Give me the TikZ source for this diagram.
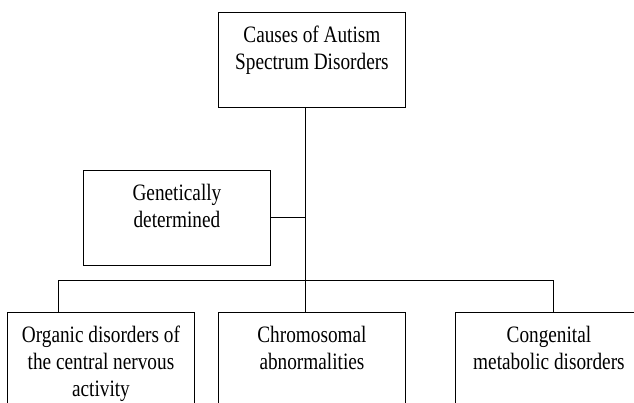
\documentclass[tikz,border=0pt]{standalone}
\usepackage{fontspec}
\setmainfont{Liberation Serif}[FakeStretch=0.82]
\newcommand{\boxlines}[1]{\parbox[t][95pt][t]{187pt}{\centering\vspace*{14pt}#1}}
\tikzset{cbox/.style={draw,inner sep=0pt,anchor=north west,font=\fontsize{23.5}{27}\selectfont}}
\begin{document}
\begin{tikzpicture}[x=1pt,y=-1pt,line width=0.9pt]
	\useasboundingbox (0,0) rectangle (634,403);
	\clip (0,0) rectangle (634,403);
	\node[cbox] (cause) at (218,12) {\boxlines{Causes of Autism\\Spectrum Disorders}};
	\node[cbox] (gene) at (83,170) {\boxlines{Genetically\\determined}};
	\node[cbox] (organic) at (7,312) {\boxlines{Organic disorders of\\the central nervous\\activity}};
	\node[cbox] (chromo) at (218,312) {\boxlines{Chromosomal\\abnormalities}};
	\node[cbox] (congen) at (455,312) {\boxlines{Congenital\\metabolic disorders}};
	\coordinate (hub) at (305.5,280);
	\coordinate (barL) at (58,280);
	\coordinate (barR) at (553,280);
	\draw (cause.south -| hub) -- (chromo.north -| hub);
	\draw (gene.east) -- (gene.east -| hub);
	\draw (organic.north -| barL) -- (barL) -- (barR) -- (congen.north -| barR);
\end{tikzpicture}
\end{document}
